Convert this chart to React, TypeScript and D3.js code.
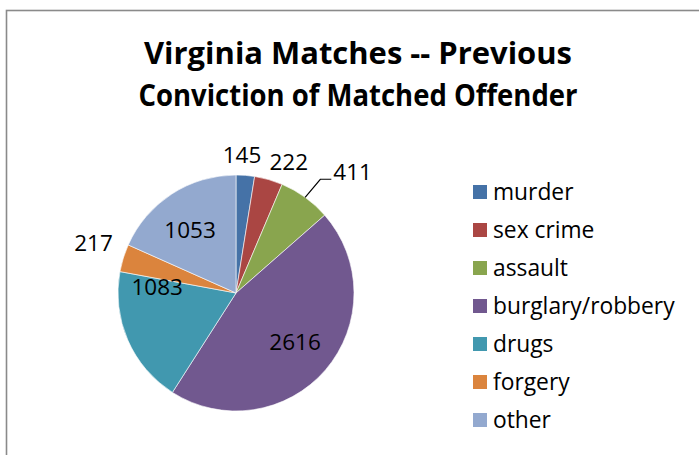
import React from "react";
import * as d3 from "d3";

const categories = ["murder", "sex crime", "assault", "burglary/robbery", "drugs", "forgery", "other"];
const values = [145, 222, 411, 2616, 1083, 217, 1053];
const colors = ["#4572A7", "#AA4643", "#89A54E", "#71588F", "#4198AF", "#DB843D", "#93A9CF"];
const titleLines = ["Virginia Matches -- Previous", "Conviction of Matched Offender"];
const titleWidths = [428, 439];
// label placement: radius factor (relative to pie radius), angle nudge (rad), leader line flag
const labelRadius = [1.17, 1.195, 1.42, 0.65, 0.67, 1.28, 0.66];
const labelShift = [-0.036, 0.104, 0.138, -0.017, 0.486, 0.036, -0.055];
const labelLeader = [false, false, true, false, false, false, false];

const W = 699;
const H = 455;
const FONT = "'Open Sans', 'Liberation Sans', sans-serif";

export default function App() {
  const cx = 236;
  const cy = 293;
  const r = 118;
  const pie = d3.pie<number>().sort(null).value((d) => d);
  const arcs = pie(values);
  const arc = d3.arc<d3.PieArcDatum<number>>().innerRadius(0).outerRadius(r);
  const polar = (a: number, rad: number): [number, number] => [rad * Math.sin(a), -rad * Math.cos(a)];

  const legendY = d3.scaleBand<string>().domain(categories).range([173, 439]);

  return (
    <svg width={W} height={H} style={{ position: "absolute", left: 0, top: 0, background: "#fff" }} fontFamily={FONT}>
      <rect x={6.5} y={10.5} width={W} height={H} fill="#fff" stroke="#8a8a8a" strokeWidth={1.6} />
      {titleLines.map((t, i) => (
        <text
          key={t}
          x={358}
          y={64 + i * 42}
          textAnchor="middle"
          fontWeight="bold"
          fontSize={29.5}
          fill="#000"
          textLength={titleWidths[i]}
          lengthAdjust="spacingAndGlyphs"
        >
          {t}
        </text>
      ))}
      <g transform={`translate(${cx},${cy})`}>
        {arcs.map((a, i) => (
          <path key={categories[i]} d={arc(a) || ""} fill={colors[i]} stroke="#fff" strokeWidth={0.6} />
        ))}
        {arcs.map((a, i) => {
          const mid = (a.startAngle + a.endAngle) / 2;
          const [lx, ly] = polar(mid + labelShift[i], r * labelRadius[i]);
          if (labelLeader[i]) {
            const [sx, sy] = polar(mid, r);
            const [ex, ey] = polar(mid + 0.012, r * 1.2);
            return (
              <g key={"l" + i}>
                <polyline points={`${sx},${sy} ${ex},${ey} ${ex + 11},${ey}`} fill="none" stroke="#000" strokeWidth={1.2} />
                <text x={ex + 13} y={ly} dy="0.35em" fontSize={22.5} fill="#000">
                  {values[i]}
                </text>
              </g>
            );
          }
          return (
            <text key={"l" + i} x={lx} y={ly} dy="0.35em" textAnchor="middle" fontSize={22.5} fill="#000">
              {values[i]}
            </text>
          );
        })}
      </g>
      {categories.map((c, i) => {
        const y = (legendY(c) || 0) + legendY.bandwidth() / 2;
        return (
          <g key={"lg" + c}>
            <rect x={473} y={y - 7} width={14} height={14} fill={colors[i]} />
            <text x={493} y={y} dy="0.35em" fontSize={22.8} fill="#000">
              {c}
            </text>
          </g>
        );
      })}
    </svg>
  );
}
